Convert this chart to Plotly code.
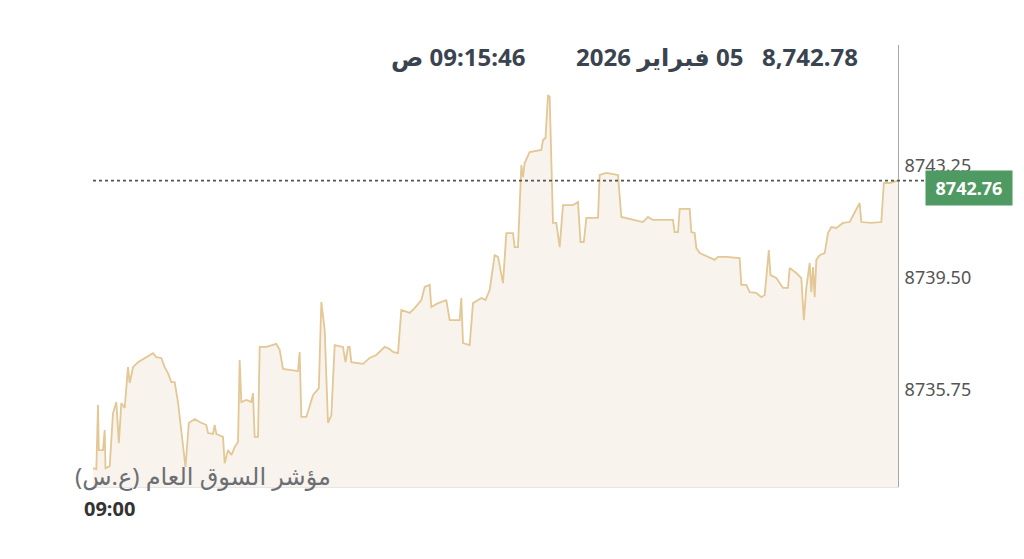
import plotly.graph_objects as go

# time offsets (seconds from 09:00:00) and index values
seconds_from_open = [
    -20, -16, -14, -13, -8, -6, -5, 0, 4, 8, 11, 14, 18, 22, 24, 28, 34, 52, 56, 62,
    66, 70, 74, 78, 82, 86, 91, 95, 102, 108, 116, 118, 124, 126, 128, 136, 138, 142, 146, 150,
    154, 156, 158, 164, 170, 172, 174, 178, 180, 188, 200, 204, 208, 226, 228, 230, 236, 244, 251, 254,
    258, 262, 266, 270, 280, 283, 286, 288, 290, 304, 312, 320, 330, 336, 340, 346, 350, 360, 366, 374,
    378, 384, 386, 394, 404, 408, 420, 422, 424, 432, 436, 446, 451, 456, 462, 466, 472, 476, 484, 486,
    490, 494, 496, 498, 504, 518, 520, 523, 526, 528, 532, 536, 540, 544, 556, 562, 565, 569, 572, 586,
    588, 596, 610, 614, 624, 640, 646, 652, 676, 678, 682, 684, 696, 698, 702, 704, 708, 720, 726, 730,
    740, 756, 758, 764, 768, 776, 782, 786, 790, 791, 793, 800, 808, 814, 816, 824, 830, 833, 836, 840,
    842, 844, 846, 848, 852, 858, 862, 866, 872, 880, 888, 894, 900, 902, 914, 926, 929, 936, 946,
]
index_values = [
    8733.11, 8733.08, 8735.23, 8733.72, 8733.72, 8734.39, 8733.11, 8733.18, 8734.96, 8735.33,
    8733.95, 8735.30, 8735.13, 8736.50, 8735.97, 8736.50, 8736.67, 8736.97, 8736.84, 8736.81,
    8736.50, 8736.30, 8736.00, 8736.00, 8735.33, 8734.39, 8733.15, 8734.63, 8734.76, 8734.66,
    8734.56, 8734.29, 8734.26, 8734.56, 8734.26, 8734.16, 8733.28, 8733.72, 8733.55, 8733.82,
    8733.99, 8736.74, 8735.33, 8735.40, 8735.33, 8735.63, 8734.16, 8734.16, 8737.18, 8737.18,
    8737.28, 8737.08, 8736.44, 8736.37, 8737.01, 8734.83, 8734.83, 8735.56, 8735.80, 8738.69,
    8737.75, 8734.63, 8734.89, 8737.24, 8737.18, 8736.67, 8737.18, 8737.18, 8736.67, 8736.61,
    8736.81, 8736.91, 8737.18, 8737.11, 8737.01, 8736.97, 8738.42, 8738.32, 8738.48, 8738.75,
    8739.19, 8739.26, 8738.52, 8738.65, 8738.75, 8738.08, 8738.08, 8738.82, 8737.31, 8737.24,
    8738.65, 8738.82, 8738.75, 8739.09, 8740.26, 8740.20, 8739.32, 8741.00, 8741.00, 8740.53,
    8740.53, 8743.28, 8742.88, 8743.35, 8743.72, 8743.79, 8744.12, 8744.19, 8745.63, 8745.57,
    8741.34, 8741.34, 8740.53, 8741.94, 8741.94, 8742.04, 8740.70, 8740.70, 8741.51, 8741.51,
    8742.95, 8743.02, 8742.95, 8741.54, 8741.47, 8741.37, 8741.54, 8741.44, 8741.44, 8741.03,
    8741.03, 8741.81, 8741.81, 8741.03, 8741.00, 8740.50, 8740.33, 8740.16, 8740.10, 8740.20,
    8740.20, 8740.16, 8739.26, 8739.26, 8739.02, 8738.99, 8738.85, 8738.92, 8740.36, 8740.43,
    8739.59, 8739.49, 8739.16, 8739.16, 8739.83, 8739.66, 8739.49, 8738.08, 8739.16, 8740.00,
    8739.02, 8739.86, 8738.85, 8740.10, 8740.26, 8740.33, 8741.00, 8741.20, 8741.17, 8741.34,
    8741.37, 8741.67, 8742.01, 8741.37, 8741.34, 8741.37, 8742.68, 8742.68, 8742.76,
]

last_value = 8742.76
y_ticks = [8735.75, 8739.50, 8743.25]
y_ticktext = ["8735.75", "8739.50", "8743.25"]
x_ticks = [0]
x_ticktext = ["09:00"]
header_value = "8,742.78"
header_date = "2026 \u200eفبراير\u200e 05"
header_time = "ص\u200e 09:15:46"
index_name = "\u202bمؤشر السوق العام (ع.س)\u202c"

FONT = "Noto Sans, DejaVu Sans, sans-serif"

fig = go.Figure()
fig.add_trace(go.Scatter(
    x=seconds_from_open, y=index_values, mode="lines",
    line=dict(color="#e3c794", width=1.8),
    fill="tozeroy", fillcolor="#f8f3ec",
    hoverinfo="skip", showlegend=False,
))

# dotted last-value line
fig.add_shape(type="line", xref="paper", yref="y", x0=0, x1=1.04,
              y0=last_value, y1=last_value,
              line=dict(color="#555555", width=1.6, dash="dot"), layer="above")

fig.add_annotation(xref="paper", yref="paper", x=1.088, y=0.676,
                   text="<b>%.2f</b>" % last_value, showarrow=False,
                   font=dict(family=FONT, size=18, color="white"),
                   bgcolor="#4f9a62", width=84, height=32,
                   xanchor="center", yanchor="middle")

hdr_font = dict(family=FONT, size=24, color="#3a4450")
fig.add_annotation(xref="paper", yref="paper", x=0.953, y=0.973, text="<b>%s</b>" % header_value,
                   showarrow=False, font=hdr_font, xanchor="right", yanchor="middle")
fig.add_annotation(xref="paper", yref="paper", x=0.810, y=0.973, text="<b>%s</b>" % header_date,
                   showarrow=False, font=hdr_font, xanchor="right", yanchor="middle")
fig.add_annotation(xref="paper", yref="paper", x=0.539, y=0.973, text="<b>%s</b>" % header_time,
                   showarrow=False, font=hdr_font, xanchor="right", yanchor="middle")

fig.add_annotation(xref="paper", yref="paper", x=0.298, y=0.025, text=index_name,
                   showarrow=False, font=dict(family=FONT, size=24, color="#6b6f74"),
                   xanchor="right", yanchor="middle")

fig.update_layout(
    width=1024, height=559,
    margin=dict(l=85, r=134, t=37, b=80),
    paper_bgcolor="white", plot_bgcolor="white",
    font=dict(family=FONT),
    xaxis=dict(range=[-20, 946], tickvals=x_ticks, ticktext=["<b>%s</b>" % t for t in x_ticktext],
               tickfont=dict(size=20, color="#333333"), showgrid=False, zeroline=False,
               showline=True, linecolor="#e6e6e6", ticks="", ticklabelstandoff=4),
    yaxis=dict(range=[8732.48, 8747.31], side="right", tickvals=y_ticks, ticktext=y_ticktext,
               tickfont=dict(size=18, color="#555555"), showgrid=False, zeroline=False,
               showline=True, linecolor="#a8a8a8", linewidth=1, ticks="", ticklabelstandoff=2),
)

fig.write_html("out.html")
